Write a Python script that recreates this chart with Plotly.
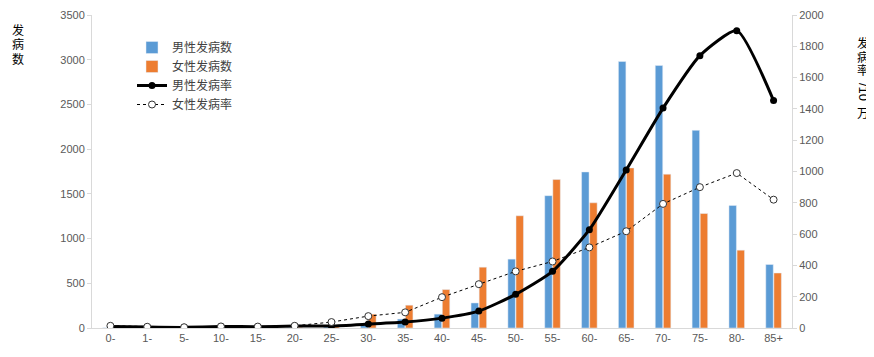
import plotly.graph_objects as go

categories = ["0-", "1-", "5-", "10-", "15-", "20-", "25-", "30-", "35-", "40-",
              "45-", "50-", "55-", "60-", "65-", "70-", "75-", "80-", "85+"]
male_cases = [2, 1, 1, 2, 3, 5, 12, 45, 100, 155, 280, 770, 1480, 1745, 2980, 2935, 2210, 1370, 710]
female_cases = [2, 1, 1, 2, 3, 8, 30, 155, 255, 430, 680, 1255, 1660, 1400, 1790, 1720, 1280, 870, 615]
male_rate = [10, 6, 4, 10, 8, 12, 13, 25, 38, 63, 108, 215, 362, 628, 1010, 1405, 1740, 1900, 1453]
female_rate = [14, 8, 5, 10, 9, 14, 38, 76, 100, 197, 280, 362, 425, 515, 618, 793, 900, 990, 820]

font_cjk = "Noto Sans CJK SC"
font_num = "Liberation Sans"
grey = "#595959"

# the page body has an 8px margin, so the figure starts at (8, 8) in the window
OFF = 8
WIN_W, WIN_H = 874, 357
W, H = WIN_W - OFF, WIN_H - OFF
# plot area in window pixels
PL, PR, PT, PB = 92, 792, 15, 328
L, T = PL - OFF, PT - OFF
R, B = W - (PR - OFF), H - (PB - OFF)
PW, PH = PR - PL, PB - PT


def px(x):
    return (x - PL) / PW


def py(y):
    return (PB - y) / PH


fig = go.Figure()
fig.add_trace(go.Bar(x=categories, y=male_cases, name="男性发病数",
                     marker_color="#5B9BD5", yaxis="y"))
fig.add_trace(go.Bar(x=categories, y=female_cases, name="女性发病数",
                     marker_color="#ED7D31", yaxis="y"))
fig.add_trace(go.Scatter(x=categories, y=male_rate, name="男性发病率", yaxis="y2",
                         mode="lines+markers",
                         line=dict(color="black", width=3, shape="spline", smoothing=0.55),
                         marker=dict(color="black", size=7)))
fig.add_trace(go.Scatter(x=categories, y=female_rate, name="女性发病率", yaxis="y2",
                         mode="lines+markers", line=dict(color="black", width=1, dash="dot"),
                         marker=dict(color="white", size=7, symbol="circle",
                                     line=dict(color="#333333", width=1))))

tick_font = dict(size=11, color=grey, family=font_num)
fig.update_layout(
    width=W, height=H,
    margin=dict(l=L, r=R, t=T, b=B, autoexpand=False),
    paper_bgcolor="white", plot_bgcolor="white",
    barmode="group", bargap=0.56, bargroupgap=0.08,
    font=dict(family=font_cjk, size=11, color=grey),
    showlegend=True,
    legend=dict(x=px(132), y=py(33), xanchor="left", yanchor="top",
                bgcolor="rgba(0,0,0,0)", font=dict(size=12, color="#404040"),
                tracegroupgap=0, itemwidth=30),
    xaxis=dict(showgrid=False, showline=True, linecolor="#D9D9D9", ticks="",
               tickfont=tick_font, range=[-0.5, 18.5], automargin=False,
               ticklabeloverflow="allow"),
    yaxis=dict(range=[0, 3500], dtick=500, showgrid=False, showline=True,
               linecolor="#D9D9D9", ticks="outside", ticklen=4, tickcolor="#D9D9D9",
               tickfont=tick_font, zeroline=False, automargin=False,
               ticklabeloverflow="allow"),
    yaxis2=dict(range=[0, 2000], dtick=200, overlaying="y", side="right",
                showgrid=False, showline=True, linecolor="#D9D9D9", ticks="outside",
                ticklen=4, tickcolor="#D9D9D9", tickfont=tick_font,
                zeroline=False, automargin=False, ticklabeloverflow="allow"),
)

title_font = dict(size=12, color="black", family=font_cjk)
# left title, stacked vertically
for ch, yc in zip("发病数", [30, 44, 58]):
    fig.add_annotation(text=ch, xref="paper", yref="paper", x=px(18), y=py(yc),
                       xanchor="center", yanchor="middle", showarrow=False, font=title_font)
# right title, stacked vertically
for ch, yc in zip("发病率", [42, 56, 70]):
    fig.add_annotation(text=ch, xref="paper", yref="paper", x=px(863), y=py(yc),
                       xanchor="center", yanchor="middle", showarrow=False, font=title_font)
fig.add_annotation(text="/10", xref="paper", yref="paper", x=px(863), y=py(92),
                   textangle=90, xanchor="center", yanchor="middle", showarrow=False,
                   font=dict(size=13, color="black", family=font_num))
fig.add_annotation(text="万", xref="paper", yref="paper", x=px(863), y=py(113),
                   xanchor="center", yanchor="middle", showarrow=False, font=title_font)

fig.write_html("out.html")
